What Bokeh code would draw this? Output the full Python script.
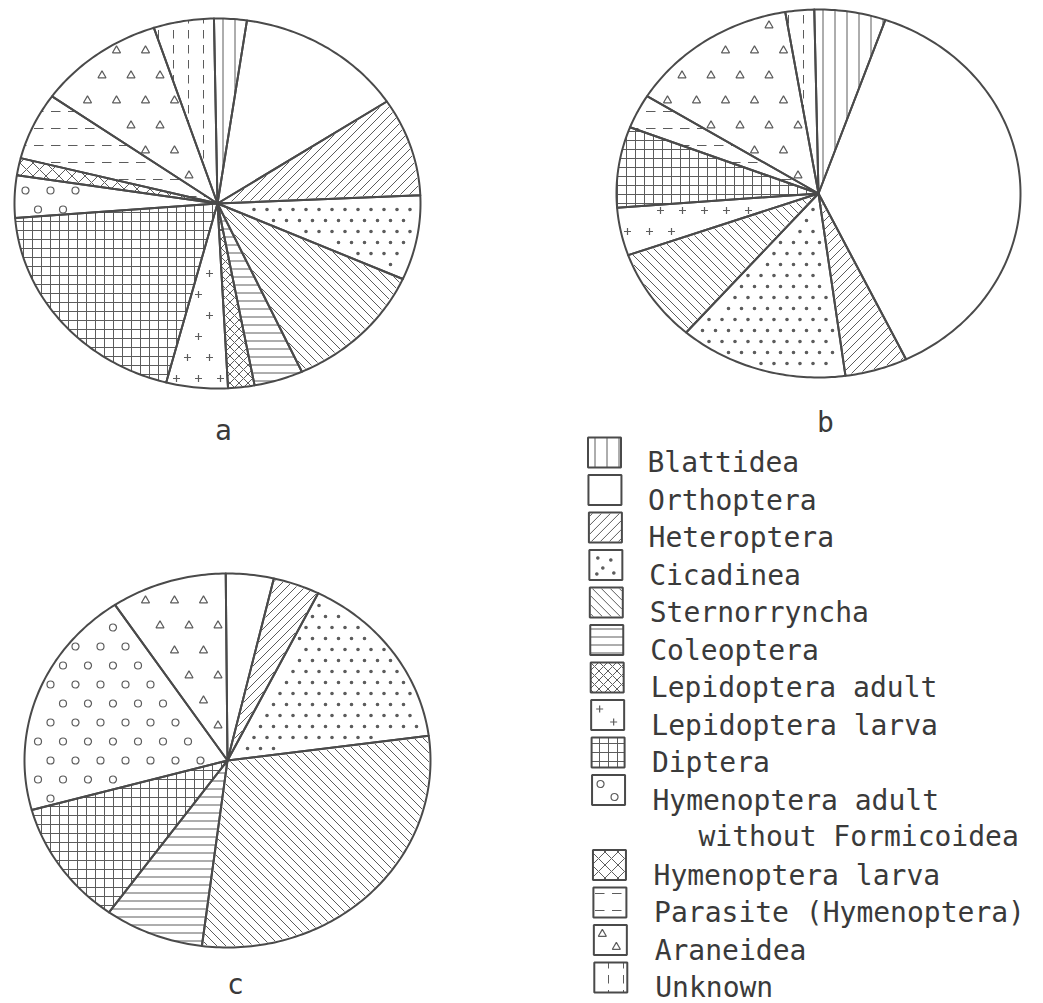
import numpy as np
from bokeh.plotting import figure
from bokeh.models import ColumnDataSource, Range1d
from bokeh.core.properties import value
from bokeh.embed import file_html
from bokeh.resources import INLINE

# ---------------- data ----------------
categories = ["Blattidea", "Orthoptera", "Heteroptera", "Cicadinea", "Sternorryncha",
              "Coleoptera", "Lepidoptera adult", "Lepidoptera larva", "Diptera",
              "Hymenoptera adult", "Hymenoptera larva", "Parasite (Hymenoptera)",
              "Araneidea", "Unknown"]
legend_extra_line = "without Formicoidea"   # second line of "Hymenoptera adult"

# share of each category (%)
share_a = [2.6, 13.4, 8.6, 7.4, 11.5, 3.9, 2.1, 4.9, 19.7, 3.7, 1.5, 5.9, 10.1, 4.8]
share_b = [5.7, 37.5, 5.0, 13.5, 8.2, 0.0, 0.0, 4.2, 7.1, 0.0, 0.0, 3.0, 13.5, 2.3]
share_c = [0.0, 3.8, 3.7, 15.5, 29.1, 7.9, 0.0, 0.0, 10.8, 19.9, 0.0, 0.0, 9.2, 0.0]
pie_labels = ["a", "b", "c"]

# ---------------- styles ----------------
INK = "#4a4a4a"
HATCH = "#5c5c5c"
FONT = value("DejaVu Sans Mono")

# kind: built-in hatch | 45-degree line hatch | marker on staggered lattice (dx, dy)
cat_style = {
    "Blattidea": ("hatch", "vertical_line", 12),
    "Orthoptera": ("hatch", "blank", 12),
    "Heteroptera": ("lines", "/", 9),
    "Cicadinea": ("marker", "dot", (13, 11)),
    "Sternorryncha": ("lines", "\\", 9),
    "Coleoptera": ("hatch", "horizontal_line", 8),
    "Lepidoptera adult": ("hatch", "diagonal_cross", 9),
    "Lepidoptera larva": ("marker", "cross", (22, 21)),
    "Diptera": ("hatch", "cross", 9),
    "Hymenoptera adult": ("marker", "circle", (25, 19)),
    "Hymenoptera larva": ("hatch", "diagonal_cross", 13),
    "Parasite (Hymenoptera)": ("hatch", "horizontal_dash", 17),
    "Araneidea": ("marker", "triangle", (29, 25)),
    "Unknown": ("hatch", "vertical_dash", 15),
}
marker_size = {"cross": 7, "circle": 7, "triangle": 8, "dot": 2.4}
marker_glyph = {"cross": "cross", "circle": "circle", "triangle": "triangle", "dot": "circle"}
marker_fill = {"cross": 0.0, "circle": 0.0, "triangle": 0.0, "dot": 1.0}
legend_marker_offsets = {
    "cross": [(-8, -6), (6, 7)],
    "circle": [(-8, -6), (6, 7)],
    "triangle": [(-8, -6), (6, 7)],
    "dot": [(-8, -7), (5, -5), (-3, 3), (8, 8), (-9, 9)],
}

# ---------------- layout ----------------
W, H = 1043, 1003
pies = [  # share list, centre x, centre y, radius x, radius y, start angle (deg, clockwise from top)
    (share_a, 217, 203, 203, 185, -1.0),
    (share_b, 818, 193, 202, 184, -1.2),
    (share_c, 227, 760, 203, 187, -0.5),
]
label_pos = [(223, 430), (825, 422), (235, 984)]

p = figure(width=W, height=H, output_backend="svg", toolbar_location=None,
           x_range=Range1d(0, W), y_range=Range1d(H, 0),
           x_axis_type=None, y_axis_type=None, min_border=0,
           background_fill_color="white", border_fill_color="white")
p.outline_line_color = None
p.grid.visible = False


def inside_sector(px, py, cx, cy, rx, ry, a, b, pad):
    px = np.asarray(px, float)
    py = np.asarray(py, float)
    u = (px - cx) / rx
    v = -(py - cy) / ry
    ok = np.hypot(u, v) < 1 - pad / min(rx, ry)
    th = (np.degrees(np.arctan2(u, v)) - a) % 360.0
    ok &= th <= (b - a)
    for ang in (a, b):
        t = np.radians(ang)
        dx, dy = rx * np.sin(t), -ry * np.cos(t)
        nrm = np.hypot(dx, dy)
        ok &= np.abs((px - cx) * dy - (py - cy) * dx) / nrm >= pad
    return ok


xs, ys, pats, scales = [], [], [], []
mk = {"x": [], "y": [], "m": [], "s": [], "fa": []}
ln = {"xs": [], "ys": []}
for shares, cx, cy, rx, ry, a0 in pies:
    total = float(sum(shares))
    a = a0
    for cat, v in zip(categories, shares):
        if v <= 0:
            continue
        b = a + 360.0 * v / total
        n = max(3, int(abs(b - a)) + 2)
        th = np.radians(np.linspace(a, b, n))
        xs.append([cx] + list(cx + rx * np.sin(th)))
        ys.append([cy] + list(cy - ry * np.cos(th)))
        kind, name, sc = cat_style[cat]
        if kind == "hatch":
            pats.append(name)
            scales.append(sc)
        else:
            pats.append("blank")
            scales.append(12)
        if kind == "marker":
            dx, dy = sc
            for j, yy in enumerate(np.arange(np.ceil((cy - ry) / dy) * dy, cy + ry, dy)):
                off = (dx / 2.0) * (int(round(yy / dy)) % 2)
                gx = np.arange(np.floor((cx - rx) / dx) * dx + off, cx + rx, dx)
                keep = inside_sector(gx, np.full_like(gx, yy), cx, cy, rx, ry, a, b, pad=5.0)
                for xx in gx[keep]:
                    mk["x"].append(float(xx))
                    mk["y"].append(float(yy))
                    mk["m"].append(marker_glyph[name])
                    mk["s"].append(marker_size[name])
                    mk["fa"].append(marker_fill[name])
        elif kind == "lines":
            sgn = 1.0 if name == "/" else -1.0
            tx = np.arange(cx - rx - 2, cx + rx + 2, 0.5)
            klo = np.floor((cx - rx + sgn * (cy - ry) - 2 * max(rx, ry)) / sc) * sc
            khi = cx + rx + sgn * (cy + ry) + 2 * max(rx, ry)
            for k in np.arange(klo, khi, sc):
                ty = (k - tx) * sgn            # "/": x + y = k ; "\": x - y = k
                inside = inside_sector(tx, ty, cx, cy, rx, ry, a, b, pad=1.2)
                if not inside.any():
                    continue
                idx = np.flatnonzero(inside)
                breaks = np.flatnonzero(np.diff(idx) > 1)
                starts = np.r_[idx[0], idx[breaks + 1]]
                ends = np.r_[idx[breaks], idx[-1]]
                for s0, e0 in zip(starts, ends):
                    if e0 > s0:
                        ln["xs"].append([float(tx[s0]), float(tx[e0])])
                        ln["ys"].append([float(ty[s0]), float(ty[e0])])
        a = b

src = ColumnDataSource(dict(xs=xs, ys=ys, pat=pats, sc=scales))

# legend
slots = [0, 1, 2, 3, 4, 5, 6, 7, 8, 9, 11, 12, 13, 14]
step = 37.5
box_y = [452 + step * s for s in slots]
box_x = [604 + 0.45 * s for s in slots]
txt_x = [647 + 0.55 * s for s in slots]
BW, BH = 33, 30
lpat, lsc = [], []
for c, bx, by in zip(categories, box_x, box_y):
    kind, name, sc = cat_style[c]
    if kind == "hatch":
        lpat.append(name)
        lsc.append(sc)
    else:
        lpat.append("blank")
        lsc.append(12)
    if kind == "marker":
        for ox, oy in legend_marker_offsets[name]:
            mk["x"].append(bx + ox)
            mk["y"].append(by + oy)
            mk["m"].append(marker_glyph[name])
            mk["s"].append(marker_size[name])
            mk["fa"].append(marker_fill[name])
    elif kind == "lines":
        sgn = 1.0 if name == "/" else -1.0
        x0, x1 = bx - BW / 2 + 1, bx + BW / 2 - 1
        y0, y1 = by - BH / 2 + 1, by + BH / 2 - 1
        for k in np.arange(-BW - BH, BW + BH, sc):
            tx = np.linspace(x0, x1, 200)
            ty = by + (k - (tx - bx)) * sgn
            okm = (ty >= y0) & (ty <= y1)
            if okm.sum() > 1:
                ii = np.flatnonzero(okm)
                ln["xs"].append([float(tx[ii[0]]), float(tx[ii[-1]])])
                ln["ys"].append([float(ty[ii[0]]), float(ty[ii[-1]])])

lsrc = ColumnDataSource(dict(x=box_x, y=box_y, pat=lpat, sc=lsc))

p.patches("xs", "ys", source=src, fill_color="white", line_color=None,
          hatch_pattern="pat", hatch_scale="sc", hatch_color=HATCH, hatch_weight=1.0)
p.rect("x", "y", width=BW, height=BH, source=lsrc, fill_color="white", line_color=None,
       hatch_pattern="pat", hatch_scale="sc", hatch_color=HATCH, hatch_weight=1.0)

p.multi_line("xs", "ys", source=ColumnDataSource(ln), line_color=HATCH, line_width=1.0)

msrc = ColumnDataSource(mk)
p.scatter("x", "y", marker="m", size="s", source=msrc, fill_color=HATCH, fill_alpha="fa",
          line_color=HATCH, line_width=1.2)

# outlines on top
p.patches("xs", "ys", source=src, fill_color=None, line_color=INK, line_width=2,
          line_join="round")
p.rect("x", "y", width=BW, height=BH, source=lsrc, fill_color=None, line_color=INK,
       line_width=2)

p.text(x=[q[0] for q in label_pos], y=[q[1] for q in label_pos], text=pie_labels,
       text_font=FONT, text_font_size="28px", text_color="#3a3a3a",
       text_align="center", text_baseline="alphabetic")

p.text(x=txt_x, y=[y + 10 for y in box_y], text=categories,
       text_font=FONT, text_font_size="28px", text_color="#3a3a3a",
       text_align="left", text_baseline="alphabetic")
p.text(x=[698], y=[box_y[9] + 10 + 36], text=[legend_extra_line],
       text_font=FONT, text_font_size="28px", text_color="#3a3a3a",
       text_align="left", text_baseline="alphabetic")

open("out.html", "w").write(file_html(p, INLINE))
